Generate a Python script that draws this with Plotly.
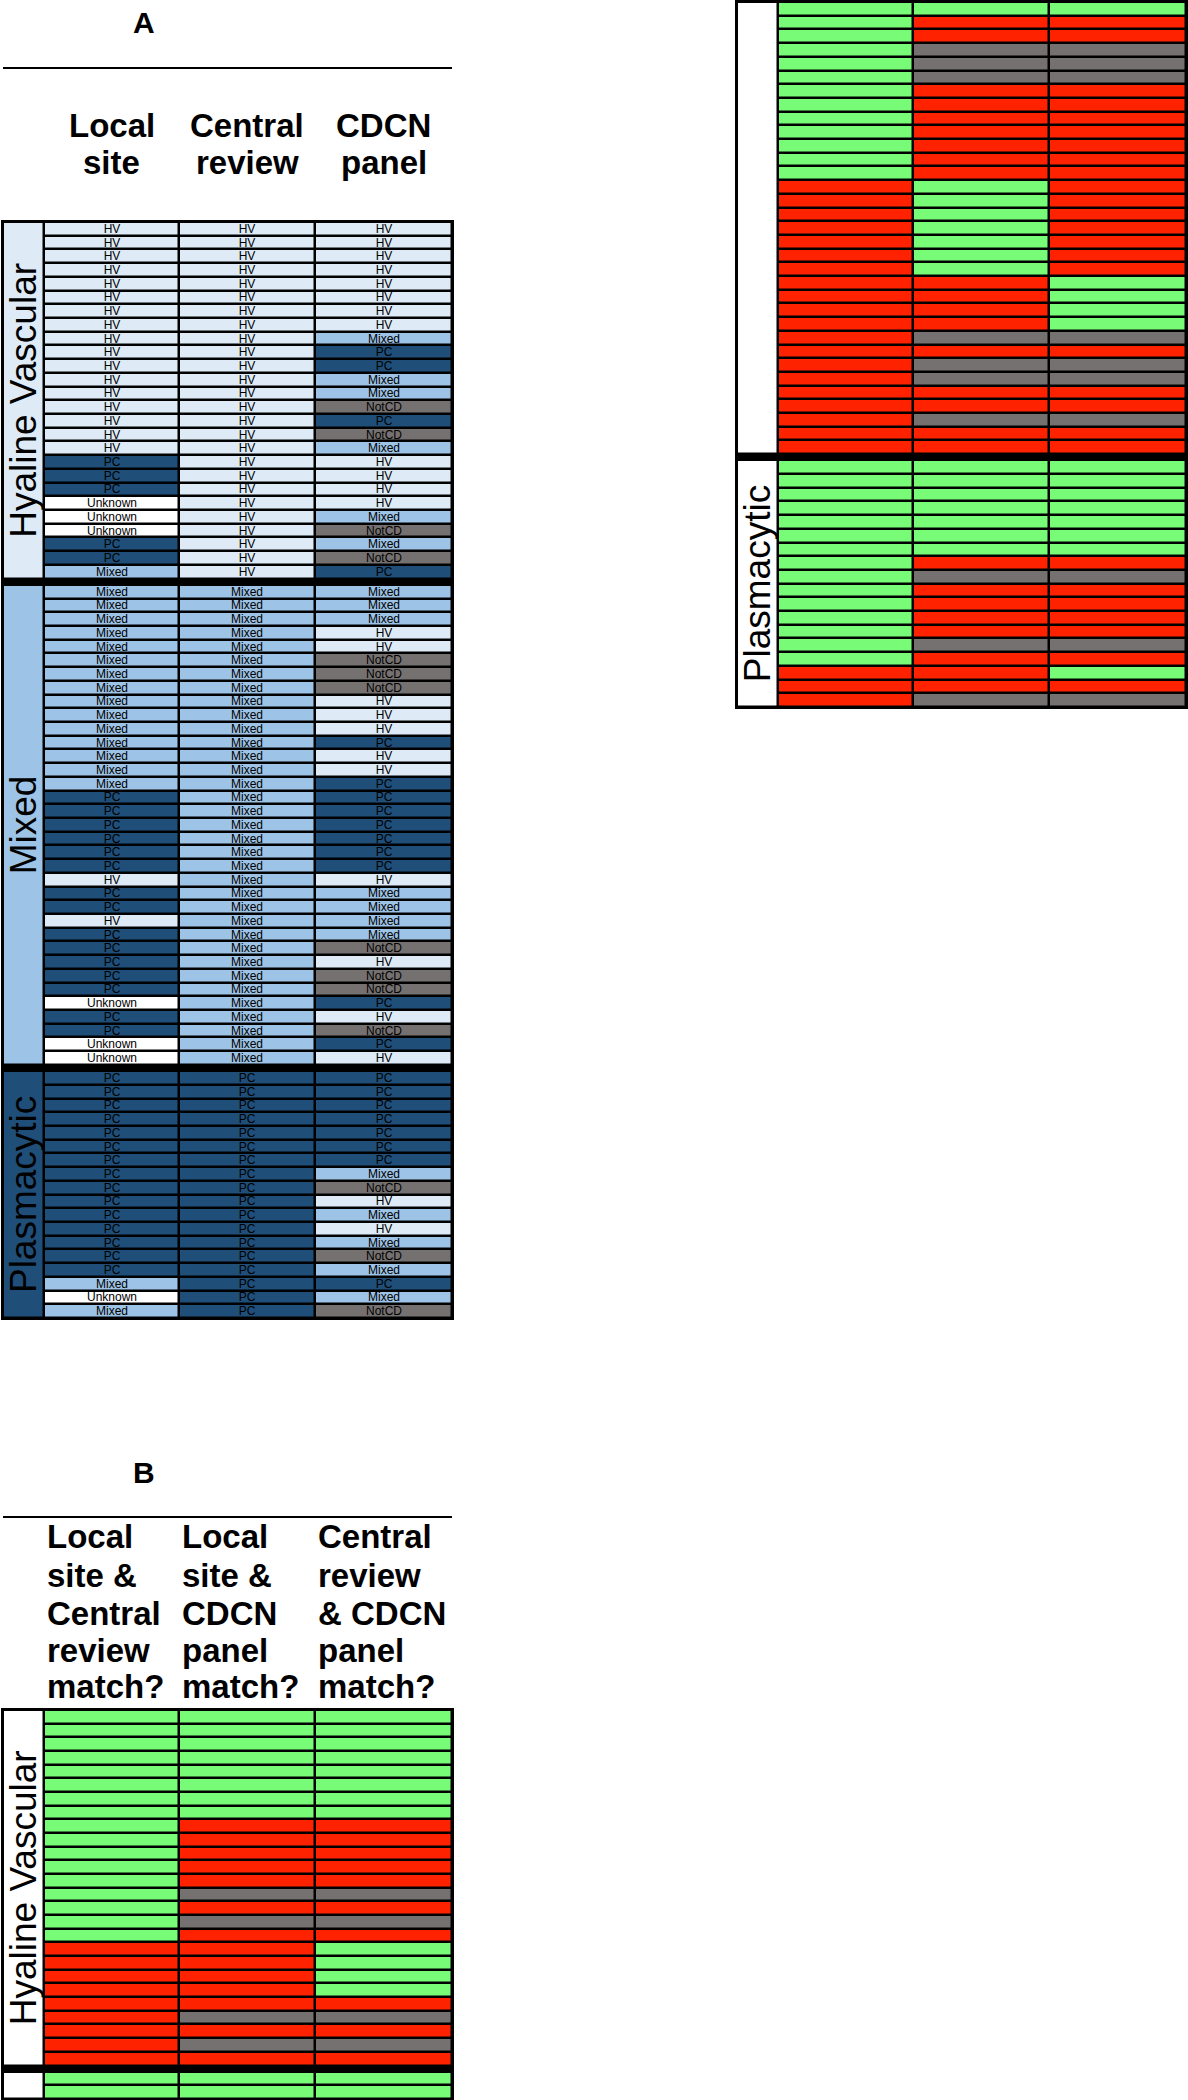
import plotly.graph_objects as go

W, H = 1188, 2100

# ---------------- data ----------------
group_names = ["Hyaline Vascular", "Mixed", "Plasmacytic"]

hv_local = ["HV", "HV", "HV", "HV", "HV", "HV", "HV", "HV", "HV", "HV", "HV", "HV", "HV",
            "HV", "HV", "HV", "HV", "PC", "PC", "PC", "Unknown", "Unknown", "Unknown",
            "PC", "PC", "Mixed"]
hv_central = ["HV", "HV", "HV", "HV", "HV", "HV", "HV", "HV", "HV", "HV", "HV", "HV", "HV",
              "HV", "HV", "HV", "HV", "HV", "HV", "HV", "HV", "HV", "HV", "HV", "HV", "HV"]
hv_cdcn = ["HV", "HV", "HV", "HV", "HV", "HV", "HV", "HV", "Mixed", "PC", "PC", "Mixed",
           "Mixed", "NotCD", "PC", "NotCD", "Mixed", "HV", "HV", "HV", "HV", "Mixed",
           "NotCD", "Mixed", "NotCD", "PC"]

mx_local = ["Mixed", "Mixed", "Mixed", "Mixed", "Mixed", "Mixed", "Mixed", "Mixed", "Mixed",
            "Mixed", "Mixed", "Mixed", "Mixed", "Mixed", "Mixed", "PC", "PC", "PC", "PC",
            "PC", "PC", "HV", "PC", "PC", "HV", "PC", "PC", "PC", "PC", "PC", "Unknown",
            "PC", "PC", "Unknown", "Unknown"]
mx_central = ["Mixed", "Mixed", "Mixed", "Mixed", "Mixed", "Mixed", "Mixed", "Mixed", "Mixed",
              "Mixed", "Mixed", "Mixed", "Mixed", "Mixed", "Mixed", "Mixed", "Mixed", "Mixed",
              "Mixed", "Mixed", "Mixed", "Mixed", "Mixed", "Mixed", "Mixed", "Mixed", "Mixed",
              "Mixed", "Mixed", "Mixed", "Mixed", "Mixed", "Mixed", "Mixed", "Mixed"]
mx_cdcn = ["Mixed", "Mixed", "Mixed", "HV", "HV", "NotCD", "NotCD", "NotCD", "HV", "HV", "HV",
           "PC", "HV", "HV", "PC", "PC", "PC", "PC", "PC", "PC", "PC", "HV", "Mixed", "Mixed",
           "Mixed", "Mixed", "NotCD", "HV", "NotCD", "NotCD", "PC", "HV", "NotCD", "PC", "HV"]

pc_local = ["PC", "PC", "PC", "PC", "PC", "PC", "PC", "PC", "PC", "PC", "PC", "PC", "PC",
            "PC", "PC", "Mixed", "Unknown", "Mixed"]
pc_central = ["PC", "PC", "PC", "PC", "PC", "PC", "PC", "PC", "PC", "PC", "PC", "PC", "PC",
              "PC", "PC", "PC", "PC", "PC"]
pc_cdcn = ["PC", "PC", "PC", "PC", "PC", "PC", "PC", "Mixed", "NotCD", "HV", "Mixed", "HV",
           "Mixed", "NotCD", "Mixed", "PC", "Mixed", "NotCD"]

headers_a = [["Local", "site"], ["Central", "review"], ["CDCN", "panel"]]
headers_b = [["Local", "site &", "Central", "review", "match?"],
             ["Local", "site &", "CDCN", "panel", "match?"],
             ["Central", "review", "& CDCN", "panel", "match?"]]

# rows of the Mixed group shown at the bottom of panel B's first part
b_left_mixed_rows = 2

# ---------------- styling ----------------
FONT = "Liberation Sans, Arial, Helvetica, sans-serif"
cat_code = {"HV": 0, "Mixed": 1, "PC": 2, "NotCD": 3, "Unknown": 4}
NA, WHITE, SEP, YES, NO = 3, 4, 5, 6, 7
palette = ["#DEEBF7", "#9DC3E6", "#1F4E79", "#767171", "#FFFFFF", "#000000",
           "#78FC78", "#FF2200"]
ncol = len(palette)
colorscale = []
for i, c in enumerate(palette):
    colorscale += [[i / ncol, c], [(i + 1) / ncol, c]]

SEP_H = 0.45
COL_W = [41, 135, 136, 137]
x_edges = [0]
for w in COL_W:
    x_edges.append(x_edges[-1] + w)
TOTAL_W = x_edges[-1]


def match(a, b):
    if b == "NotCD":
        return NA
    return YES if a == b else NO


groups = [(hv_local, hv_central, hv_cdcn), (mx_local, mx_central, mx_cdcn),
          (pc_local, pc_central, pc_cdcn)]

rows_a, rows_b = [], []
for loc, cen, cd in groups:
    ra, rb = [], []
    for a, b, c in zip(loc, cen, cd):
        ra.append(([cat_code[a], cat_code[b], cat_code[c]], [a, b, c]))
        rb.append(([match(a, b), match(a, c), match(b, c)], ["", "", ""]))
    rows_a.append(ra)
    rows_b.append(rb)


def build(blocks, label_codes):
    z, txt, edges = [], [], [0.0]
    lz, ledges = [], [0.0]
    for bi, (rows, lcode) in enumerate(zip(blocks, label_codes)):
        if bi > 0:
            z.append([SEP, SEP, SEP]); txt.append(["", "", ""])
            edges.append(edges[-1] + SEP_H)
            lz.append([SEP]); ledges.append(ledges[-1] + SEP_H)
        for codes, texts in rows:
            z.append(codes); txt.append(texts); edges.append(edges[-1] + 1)
        lz.append([lcode]); ledges.append(ledges[-1] + len(rows))
    return z, txt, edges, lz, ledges


panel_a = build(rows_a, [0, 1, 2])
panel_b1 = build([rows_b[0], rows_b[1][:b_left_mixed_rows]], [WHITE, WHITE])
panel_b2 = build([rows_b[1][b_left_mixed_rows:], rows_b[2]], [WHITE, WHITE])

fig = go.Figure()


def add_panel(data, xa, ya, show_text):
    z, txt, edges, lz, ledges = data
    fig.add_trace(go.Heatmap(z=lz, x=x_edges[:2], y=ledges, xaxis=xa, yaxis=ya,
                             colorscale=colorscale, zmin=-0.5, zmax=ncol - 0.5,
                             showscale=False, xgap=2.5, ygap=2.5, hoverinfo="skip"))
    kw = {}
    if show_text:
        kw = dict(text=txt, texttemplate="%{text}",
                  textfont=dict(family=FONT, size=12, color="black"))
    fig.add_trace(go.Heatmap(z=z, x=x_edges[1:], y=edges, xaxis=xa, yaxis=ya,
                             colorscale=colorscale, zmin=-0.5, zmax=ncol - 0.5,
                             showscale=False, xgap=2.5, ygap=2.5, hoverinfo="skip", **kw))
    return edges, ledges


ea, la = add_panel(panel_a, "x", "y", True)
eb1, lb1 = add_panel(panel_b1, "x2", "y2", False)
eb2, lb2 = add_panel(panel_b2, "x3", "y3", False)


def px_x(p):
    return p / W


def px_y(p):
    return 1 - p / H


def axis(dom, rng, anchor):
    return dict(domain=dom, range=rng, anchor=anchor, showgrid=False, zeroline=False,
                showticklabels=False, ticks="", showline=True, mirror=True,
                linecolor="black", linewidth=2, fixedrange=True)


# panel placement (pixels)
A_X = (3, 452); A_Y = (222, 1318)
B1_X = (3, 452); B1_Y = (1710, 2099)
B2_X = (737, 1186); B2_Y = (2, 707)

fig.update_layout(
    width=W, height=H, margin=dict(l=0, r=0, t=0, b=0),
    paper_bgcolor="white", plot_bgcolor="black", showlegend=False,
    xaxis=axis([px_x(A_X[0]), px_x(A_X[1])], [0, TOTAL_W], "y"),
    yaxis=axis([px_y(A_Y[1]), px_y(A_Y[0])], [ea[-1], 0], "x"),
    xaxis2=axis([px_x(B1_X[0]), px_x(B1_X[1])], [0, TOTAL_W], "y2"),
    yaxis2=axis([px_y(B1_Y[1]), px_y(B1_Y[0])], [eb1[-1], 0], "x2"),
    xaxis3=axis([px_x(B2_X[0]), px_x(B2_X[1])], [0, TOTAL_W], "y3"),
    yaxis3=axis([px_y(B2_Y[1]), px_y(B2_Y[0])], [eb2[-1], 0], "x3"),
)

ann = []
# panel letters
ann.append(dict(text="<b>A</b>", x=px_x(144), y=px_y(23), xref="paper", yref="paper",
                showarrow=False, font=dict(family=FONT, size=30, color="black"),
                xanchor="center", yanchor="middle"))
ann.append(dict(text="<b>B</b>", x=px_x(144), y=px_y(1472), xref="paper", yref="paper",
                showarrow=False, font=dict(family=FONT, size=30, color="black"),
                xanchor="center", yanchor="middle"))

# panel A headers (centered, 2 lines)
a_base = [125, 163]
for ci, lines in enumerate(headers_a):
    cx = (x_edges[ci + 1] + x_edges[ci + 2]) / 2
    for li, t in enumerate(lines):
        ann.append(dict(text="<b>%s</b>" % t, x=cx, y=px_y(a_base[li]), xref="x",
                        yref="paper", showarrow=False,
                        font=dict(family=FONT, size=33, color="black"),
                        xanchor="center", yanchor="middle"))

# panel B headers (left aligned, 5 lines)
b_base = [1536, 1575, 1613, 1650, 1686]
for ci, lines in enumerate(headers_b):
    lx = x_edges[ci + 1] + 1
    for li, t in enumerate(lines):
        ann.append(dict(text="<b>%s</b>" % t, x=lx, y=px_y(b_base[li]), xref="x2",
                        yref="paper", showarrow=False,
                        font=dict(family=FONT, size=33, color="black"),
                        xanchor="left", yanchor="middle"))


def group_label(text, xa, ya, y0, y1):
    ann.append(dict(text=text, x=x_edges[1] / 2, y=(y0 + y1) / 2, xref=xa, yref=ya,
                    showarrow=False, textangle=-90,
                    font=dict(family=FONT, size=37, color="black"),
                    xanchor="center", yanchor="middle"))


# panel A group labels
group_label(group_names[0], "x", "y", la[0], la[1])
group_label(group_names[1], "x", "y", la[2], la[3])
group_label(group_names[2], "x", "y", la[4], la[5])
# panel B group labels
group_label(group_names[0], "x2", "y2", lb1[0], lb1[1])
group_label(group_names[2], "x3", "y3", lb2[2], lb2[3])

fig.update_layout(annotations=ann)

# rules under the panel letters
fig.add_shape(type="line", xref="paper", yref="paper", x0=px_x(3), x1=px_x(452),
              y0=px_y(68), y1=px_y(68), line=dict(color="black", width=2))
fig.add_shape(type="line", xref="paper", yref="paper", x0=px_x(3), x1=px_x(452),
              y0=px_y(1517), y1=px_y(1517), line=dict(color="black", width=2))

fig.write_html("out.html", config={"displayModeBar": False},
               post_script="document.body.style.margin='0';document.body.style.overflow='hidden';")
